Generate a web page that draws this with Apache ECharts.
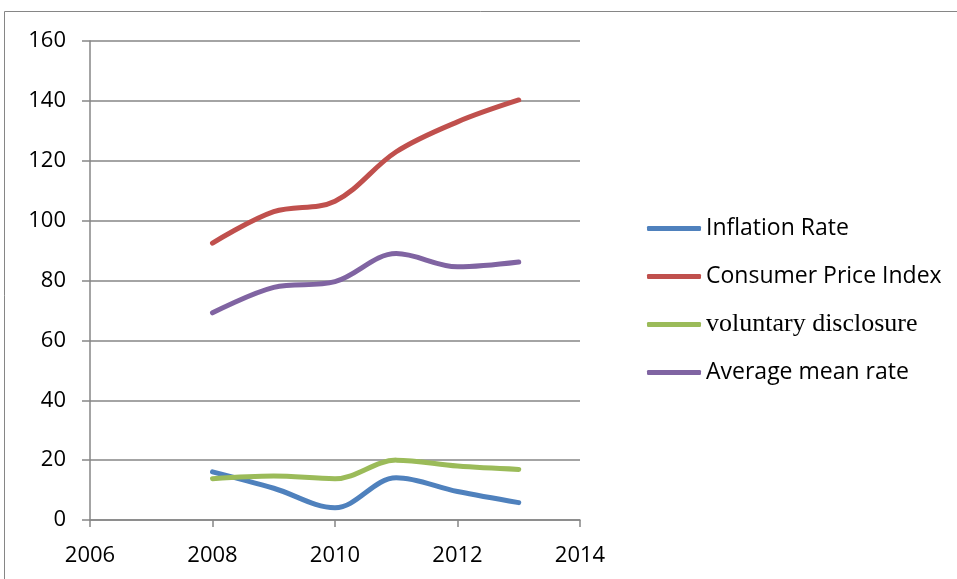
<!DOCTYPE html>
<html><head><meta charset="utf-8">
<script src="https://cdn.jsdelivr.net/npm/echarts@6/dist/echarts.min.js"></script>
<style>html,body{margin:0;padding:0;background:#fff;}#c{width:957px;height:579px;}</style>
</head><body><div id="c"></div>
<script>
const years = [2008, 2009, 2010, 2011, 2012, 2013];
const inflationRate = [16.1, 10.6, 4.1, 14.1, 9.5, 5.8];
const consumerPriceIndex = [92.5, 103, 106.5, 123, 133, 140.3];
const voluntaryDisclosure = [13.8, 14.7, 13.8, 20, 18, 16.9];
const averageMeanRate = [69.2, 77.7, 79.6, 89, 84.6, 86.2];
const seriesNames = ['Inflation Rate', 'Consumer Price Index', 'voluntary disclosure', 'Average mean rate'];
const seriesColors = ['#4F81BD', '#C0504D', '#9BBB59', '#8064A2'];
const seriesValues = [inflationRate, consumerPriceIndex, voluntaryDisclosure, averageMeanRate];

const chart = echarts.init(document.getElementById('c'));
const font = '"Open Sans", "Liberation Sans", sans-serif';
chart.setOption({
  animation: false,
  graphic: [{
    type: 'polyline', silent: true,
    shape: { points: [[4.5, 579], [4.5, 11.5], [957, 11.5]] },
    style: { stroke: '#868686', lineWidth: 1, fill: null }
  }],
  grid: { left: 90, right: 377, top: 41, bottom: 59 },
  xAxis: {
    type: 'value', min: 2006, max: 2014, interval: 2,
    axisLine: { show: true, lineStyle: { color: '#868686', width: 1.5 } },
    axisTick: { show: true, length: 7, inside: false, lineStyle: { color: '#868686', width: 1.5 } },
    splitLine: { show: false },
    axisLabel: { margin: 25, color: '#000', fontSize: 22, fontFamily: font, formatter: v => String(v) }
  },
  yAxis: {
    type: 'value', min: 0, max: 160, interval: 20,
    axisLine: { show: true, lineStyle: { color: '#868686', width: 1.5 } },
    axisTick: { show: true, length: 8, lineStyle: { color: '#868686', width: 1.5 } },
    splitLine: { show: true, lineStyle: { color: '#868686', width: 1.5 } },
    axisLabel: { margin: 24, color: '#000', fontSize: 22, fontFamily: font }
  },
  legend: {
    orient: 'vertical', left: 647, top: 214, padding: 0,
    itemWidth: 54, itemHeight: 5, itemGap: 19,
    icon: 'roundRect',
    textStyle: { color: '#000', fontSize: 23, fontFamily: font, padding: [0, 0, 0, 0], lineHeight: 29 },
    data: seriesNames.map((n, i) => i === 2
      ? { name: n, textStyle: { fontFamily: '"Liberation Serif", serif', fontSize: 26, lineHeight: 29 } }
      : { name: n })
  },
  series: seriesNames.map((n, i) => ({
    name: n, type: 'line', smooth: 0.35, showSymbol: false, symbol: 'none',
    data: years.map((y, j) => [y, seriesValues[i][j]]),
    lineStyle: { color: seriesColors[i], width: 5, cap: 'round' },
    itemStyle: { color: seriesColors[i] }
  }))
});
</script></body></html>
